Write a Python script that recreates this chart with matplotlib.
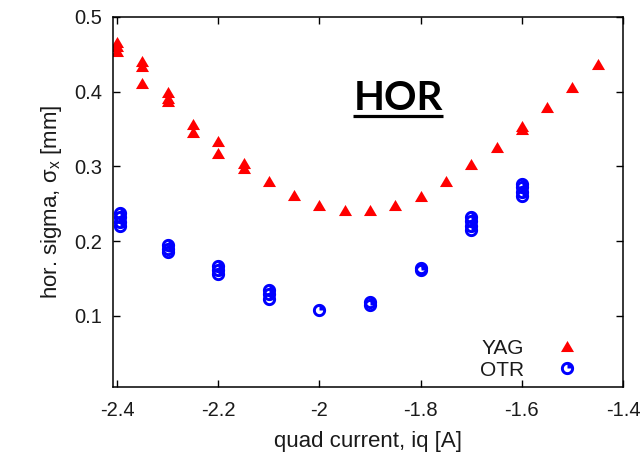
import numpy as np
import matplotlib
matplotlib.use("Agg")
import matplotlib.pyplot as plt
from matplotlib.path import Path
from matplotlib.lines import Line2D

plt.rcParams['font.family'] = ['Liberation Sans', 'DejaVu Sans']
plt.rcParams['axes.unicode_minus'] = False
plt.rcParams['mathtext.fontset'] = 'custom'
plt.rcParams['mathtext.rm'] = 'Liberation Sans'

# Quadrupole scan: horizontal beam size on the YAG and OTR screens
yag_current = [-2.40, -2.40, -2.40, -2.35, -2.35, -2.35, -2.30, -2.30, -2.30,
               -2.25, -2.25, -2.20, -2.20, -2.15, -2.15, -2.10, -2.05, -2.00,
               -1.95, -1.90, -1.85, -1.80, -1.75, -1.70, -1.65, -1.60, -1.60,
               -1.55, -1.50, -1.45]
yag_sigma = [0.467, 0.461, 0.454, 0.441, 0.435, 0.412, 0.400, 0.392, 0.387,
             0.357, 0.346, 0.334, 0.318, 0.305, 0.298, 0.280, 0.262, 0.248,
             0.242, 0.242, 0.249, 0.260, 0.280, 0.303, 0.326, 0.354, 0.350,
             0.379, 0.406, 0.437]

otr_current = [-2.394, -2.394, -2.394, -2.394, -2.30, -2.30, -2.30,
               -2.20, -2.20, -2.20, -2.10, -2.10, -2.10, -2.00,
               -1.90, -1.90, -1.80, -1.80, -1.70, -1.70, -1.70, -1.70,
               -1.60, -1.60, -1.60, -1.60]
otr_sigma = [0.238, 0.232, 0.226, 0.220, 0.195, 0.190, 0.186,
             0.167, 0.161, 0.156, 0.135, 0.129, 0.123, 0.108,
             0.119, 0.115, 0.164, 0.162, 0.232, 0.227, 0.221, 0.215,
             0.277, 0.272, 0.266, 0.260]

x_ticks = [-2.4, -2.2, -2.0, -1.8, -1.6, -1.4]
x_tick_labels = ["-2.4", "-2.2", "-2", "-1.8", "-1.6", "-1.4"]
y_ticks = [0.1, 0.2, 0.3, 0.4, 0.5]
y_tick_labels = ["0.1", "0.2", "0.3", "0.4", "0.5"]


def wide_triangle():
    verts = [(0, 0.85), (-1, -0.85), (1, -0.85), (0, 0.85)]
    codes = [Path.MOVETO, Path.LINETO, Path.LINETO, Path.CLOSEPOLY]
    return Path(verts, codes)


def quarter_circle(inner=0.55):
    # ring with the upper-right quadrant filled
    t = np.linspace(0, 2 * np.pi, 64)
    outer = np.column_stack([np.cos(t), np.sin(t)])
    inn = np.column_stack([inner * np.cos(t[::-1]), inner * np.sin(t[::-1])])
    q = np.linspace(0, np.pi / 2, 20)
    wedge = np.vstack([[0, 0], np.column_stack([inner * np.cos(q), inner * np.sin(q)]), [0, 0]])
    verts = np.vstack([outer, inn, wedge])
    codes = ([Path.MOVETO] + [Path.LINETO] * 62 + [Path.CLOSEPOLY]
             + [Path.MOVETO] + [Path.LINETO] * 62 + [Path.CLOSEPOLY]
             + [Path.MOVETO] + [Path.LINETO] * 20 + [Path.CLOSEPOLY])
    return Path(verts, codes)


fig = plt.figure(figsize=(6.42, 4.53), dpi=100)
ax = fig.add_axes([113 / 642, 1 - 387 / 453, 510 / 642, 370 / 453])

ax.plot(yag_current, yag_sigma, linestyle='none', marker=wide_triangle(),
        markersize=9.4, markerfacecolor='#ff0000', markeredgewidth=0,
        label='YAG')
ax.plot(otr_current, otr_sigma, linestyle='none', marker=quarter_circle(),
        markersize=9.5, markerfacecolor='#0000ff', markeredgewidth=0,
        label='OTR')

ax.set_xlim(-2.408, -1.4)
ax.set_ylim(0.005, 0.5)
ax.set_xticks(x_ticks)
ax.set_xticklabels(x_tick_labels)
ax.set_yticks(y_ticks)
ax.set_yticklabels(y_tick_labels)
ax.tick_params(direction='in', length=5, width=1, top=True, right=True,
               labelsize=14.5, labelcolor='#1a1a1a', pad=8)
ax.tick_params(axis='x', pad=10)
for s in ax.spines.values():
    s.set_linewidth(1.1)

ax.set_xlabel('quad current, iq [A]', fontsize=16, color='#1a1a1a', labelpad=8)
ax.set_ylabel(r'hor. sigma, σ$_{\mathrm{x}}$ [mm]', fontsize=16,
              color='#1a1a1a', labelpad=7)

ax.text(0.5596, 0.7486, 'HOR', transform=ax.transAxes, ha='center',
        va='baseline', fontsize=29, fontweight='bold', family='Lato',
        color='black')
ax.add_line(Line2D([0.4706, 0.6465], [0.7324, 0.7324], transform=ax.transAxes,
                   color='black', linewidth=2.3, solid_capstyle='butt'))

leg = ax.legend(loc='lower right', bbox_to_anchor=(0.936, -0.014), frameon=False,
                markerfirst=False, numpoints=1, handlelength=1.0,
                handletextpad=1.6, labelspacing=0.15, fontsize=15,
                borderaxespad=0.2)
for t in leg.get_texts():
    t.set_color('#1a1a1a')

fig.savefig('out.png', dpi=100)
